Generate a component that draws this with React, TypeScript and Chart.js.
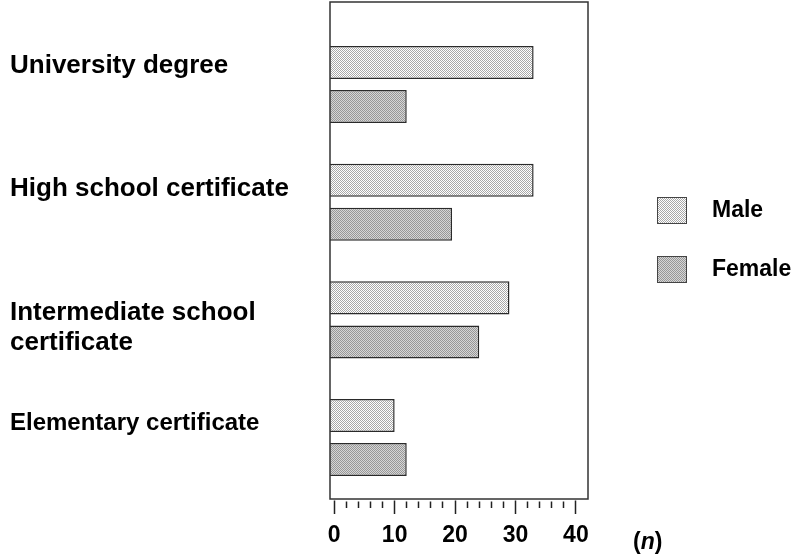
import React, { useEffect, useRef } from "react";
import { Chart, registerables } from "chart.js";

Chart.register(...registerables);

// ---- data ----
const CATEGORIES = [
  "University degree",
  "High school certificate",
  "Intermediate school\ncertificate",
  "Elementary certificate",
];
const SERIES_NAMES = ["Male", "Female"];
const MALE = [33, 33, 29, 10];
const FEMALE = [12, 19.5, 24, 12];
const X_TICK_LABELS = [0, 10, 20, 30, 40];
const X_MINOR_STEP = 2;
const AXIS_UNIT = "n";

// ---- layout / style constants ----
const FONT = '"Liberation Sans", Arial, Helvetica, sans-serif';
const X_MIN = -0.7;
const X_MAX = 42;
const Y_MIN = -0.701;
const Y_MAX = 3.522;
const LABEL_NUDGE = [-0.16, -0.11, 0.07, -0.12];

function makePattern(dark: string, light: string): CanvasPattern | string {
  const c = document.createElement("canvas");
  c.width = 2;
  c.height = 2;
  const g = c.getContext("2d");
  if (!g) return dark;
  g.fillStyle = light;
  g.fillRect(0, 0, 2, 2);
  g.fillStyle = dark;
  g.fillRect(0, 0, 1, 1);
  g.fillRect(1, 1, 1, 1);
  return g.createPattern(c, "repeat") || dark;
}

const decorPlugin = {
  id: "decor",
  afterDatasetsDraw(chart: any) {
    const { ctx, chartArea: a } = chart;
    ctx.save();
    // frame
    ctx.lineWidth = 1.5;
    ctx.strokeStyle = "#333";
    ctx.strokeRect(a.left, a.top, a.right - a.left, a.bottom - a.top);
    // legend
    chart.data.datasets.forEach((ds: any, i: number) => {
      const bx = a.right + 69;
      const by = a.top + 195 + i * 59;
      ctx.fillStyle = ds.backgroundColor;
      ctx.fillRect(bx, by, 30, 27);
      ctx.lineWidth = 1;
      ctx.strokeStyle = "#444";
      ctx.strokeRect(bx + 0.5, by + 0.5, 29, 26);
      ctx.fillStyle = "#000";
      ctx.font = `bold 23px ${FONT}`;
      ctx.textBaseline = "middle";
      ctx.textAlign = "left";
      ctx.fillText(ds.label, bx + 55, by + 14);
    });
    // unit label
    let x = a.right + 45;
    const y = a.bottom + 50;
    ctx.fillStyle = "#000";
    ctx.textBaseline = "alphabetic";
    ctx.textAlign = "left";
    ctx.font = `bold 23px ${FONT}`;
    ctx.fillText("(", x, y);
    x += ctx.measureText("(").width;
    ctx.font = `italic bold 23px ${FONT}`;
    ctx.fillText(AXIS_UNIT, x, y);
    x += ctx.measureText(AXIS_UNIT).width;
    ctx.font = `bold 23px ${FONT}`;
    ctx.fillText(")", x, y);
    ctx.restore();
  },
};

export default function App() {
  const ref = useRef<HTMLCanvasElement | null>(null);

  useEffect(() => {
    if (!ref.current) return;
    const maleFill = makePattern("#a8a8a8", "#ffffff");
    const femaleFill = makePattern("#979797", "#d6d6d6");
    const minorTicks: number[] = [];
    for (
      let v = X_TICK_LABELS[0];
      v <= X_TICK_LABELS[X_TICK_LABELS.length - 1] + 1e-9;
      v += X_MINOR_STEP
    ) {
      minorTicks.push(v);
    }

    const chart = new Chart(ref.current, {
      type: "bar",
      data: {
        datasets: [
          {
            label: SERIES_NAMES[0],
            data: MALE.map((v, i) => ({ x: v, y: i })),
            backgroundColor: maleFill as any,
            borderColor: "#2a2a2a",
            borderWidth: 1.5,
            base: X_MIN,
          } as any,
          {
            label: SERIES_NAMES[1],
            data: FEMALE.map((v, i) => ({ x: v, y: i })),
            backgroundColor: femaleFill as any,
            borderColor: "#2a2a2a",
            borderWidth: 1.5,
            base: X_MIN,
          } as any,
        ],
      },
      options: {
        indexAxis: "y",
        animation: false,
        responsive: false,
        categoryPercentage: 0.748,
        barPercentage: 0.75,
        layout: { padding: { left: 10, right: 212, top: 2, bottom: 0 } },
        plugins: {
          legend: { display: false },
          tooltip: { enabled: false },
        },
        scales: {
          x: {
            type: "linear",
            position: "bottom",
            min: X_MIN,
            max: X_MAX,
            afterBuildTicks: (s: any) => {
              s.ticks = minorTicks.map((v) => ({ value: v }));
            },
            afterFit: (s: any) => {
              s.height = 61;
              s.paddingLeft = 0;
              s.paddingRight = 0;
            },
            border: { display: false },
            grid: {
              drawOnChartArea: false,
              drawTicks: true,
              tickLength: 15,
              tickWidth: 1.5,
              tickColor: "#222",
              tickBorderDash: (ctx: any) =>
                ctx.tick && X_TICK_LABELS.includes(ctx.tick.value)
                  ? [0, 1.5, 13.5, 100]
                  : [0, 2.5, 6.5, 100],
            },
            ticks: {
              autoSkip: false,
              maxRotation: 0,
              padding: 8,
              color: "#000",
              font: { family: FONT, size: 23, weight: "bold" },
              callback: (v: any) =>
                X_TICK_LABELS.includes(Number(v)) ? String(v) : "",
            },
          } as any,
          y: {
            type: "linear",
            axis: "y",
            position: "left",
            offset: false,
            reverse: true,
            min: Y_MIN,
            max: Y_MAX,
            afterBuildTicks: (s: any) => {
              s.ticks = CATEGORIES.map((_, i) => ({ value: i }));
            },
            afterFit: (s: any) => {
              s.width = 0;
              s.paddingTop = 0;
              s.paddingBottom = 0;
            },
            border: { display: false },
            grid: { display: false, drawTicks: false, offset: false },
            ticks: { display: false, padding: 0 },
          } as any,
          yLabels: {
            type: "linear",
            axis: "y",
            position: "left",
            offset: false,
            reverse: true,
            min: Y_MIN,
            max: Y_MAX,
            afterBuildTicks: (s: any) => {
              s.ticks = CATEGORIES.map((_, i) => ({ value: i + LABEL_NUDGE[i] }));
            },
            afterFit: (s: any) => {
              s.width = 320;
              s.paddingTop = 0;
              s.paddingBottom = 0;
            },
            border: { display: false },
            grid: { display: false, drawTicks: false, offset: false },
            ticks: {
              autoSkip: false,
              crossAlign: "far",
              padding: 0,
              color: "#000",
              font: (ctx: any) => ({
                family: FONT,
                size: ctx.index === CATEGORIES.length - 1 ? 24 : 26,
                weight: "bold",
                lineHeight: 1.15,
              }),
              callback: (_v: any, i: number) => CATEGORIES[i].split("\n"),
            },
          } as any,
        },
      },
      plugins: [decorPlugin],
    });
    return () => chart.destroy();
  }, []);

  return (
    <div style={{ position: "absolute", left: 0, top: 0, width: 800, height: 560, background: "#fff" }}>
      <canvas ref={ref} width={800} height={560} style={{ display: "block" }} />
    </div>
  );
}
